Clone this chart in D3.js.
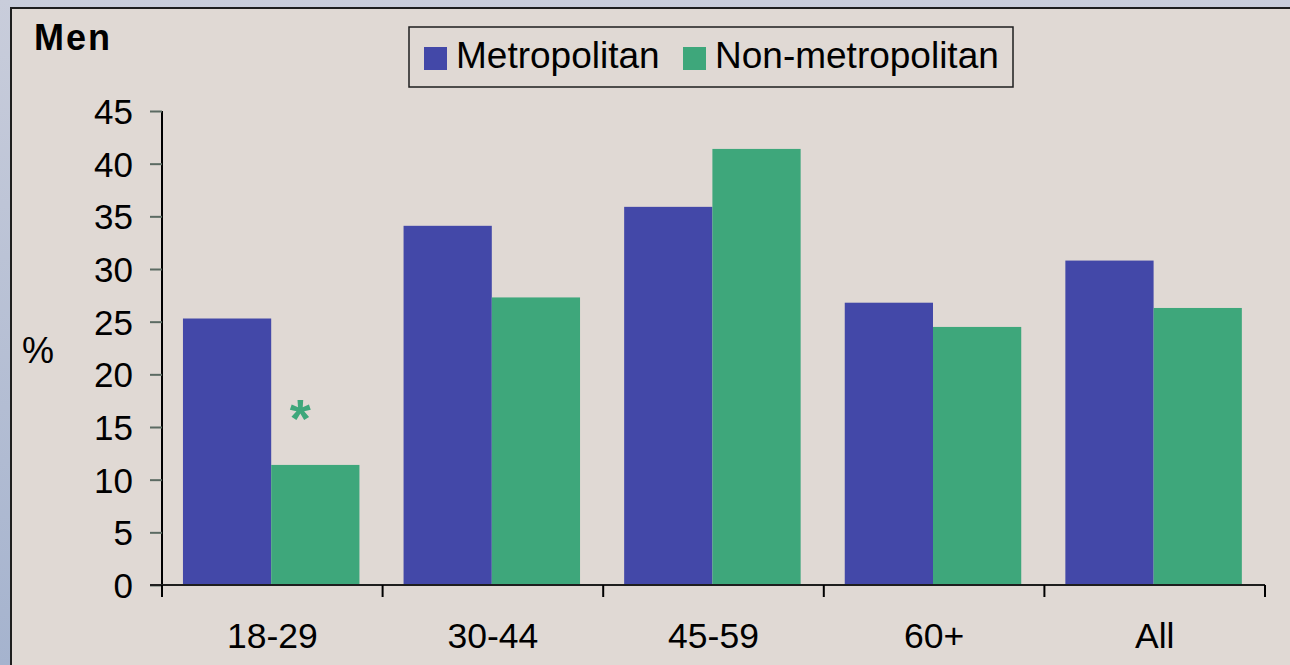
<!DOCTYPE html>
<html lang="en">
<head>
<meta charset="utf-8">
<script src="https://cdn.jsdelivr.net/npm/d3@7"></script>
<style>
body { margin:0; background:#b3bfd5; overflow:hidden; }
svg { display:block; font-family:"Liberation Sans", Arial, sans-serif; }
.axis text { font-family:"Liberation Sans", Arial, sans-serif; fill:#000; }
</style>
</head>
<body>
<svg id="chart"></svg>
<script>
var W = 1290, H = 665;

// data
var ageGroups = ["18-29", "30-44", "45-59", "60+", "All"];
var seriesNames = ["Metropolitan", "Non-metropolitan"];
var metroValues = [25.3, 34.1, 35.9, 26.8, 30.8];
var nonMetroValues = [11.4, 27.3, 41.4, 24.5, 26.3];
var yTicks = [0, 5, 10, 15, 20, 25, 30, 35, 40, 45];
var colors = ["#4348a8", "#3ea77b"];

var svg = d3.select("#chart").attr("width", W).attr("height", H);

// outer frame + panel
var defs = svg.append("defs");
var grad = defs.append("linearGradient").attr("id", "outer").attr("x1", 0).attr("y1", 0).attr("x2", 0).attr("y2", 1);
grad.append("stop").attr("offset", "0%").attr("stop-color", "#c9cddb");
grad.append("stop").attr("offset", "100%").attr("stop-color", "#a5b3ce");
svg.append("rect").attr("width", W).attr("height", H).attr("fill", "url(#outer)");
svg.append("rect")
	.attr("x", 11).attr("y", 8).attr("width", W + 20).attr("height", H + 20)
	.attr("fill", "#e0d9d4").attr("stroke", "#1e1e1e").attr("stroke-width", 2);

var plotLeft = 162, plotRight = 1265, plotTop = 111, plotBottom = 585;

var x = d3.scaleBand().domain(ageGroups).range([plotLeft, plotRight]).padding(0);
var xs = d3.scaleBand().domain(seriesNames)
	.range([x.bandwidth() * 0.095, x.bandwidth() * 0.895]).padding(0);
var y = d3.scaleLinear().domain([0, 45]).range([plotBottom, plotTop]);

var rows = ageGroups.map(function(g, i){
	return {group:g, values:[
		{name:seriesNames[0], v:metroValues[i], c:colors[0]},
		{name:seriesNames[1], v:nonMetroValues[i], c:colors[1]}
	]};
});

// bars
svg.append("g").selectAll("g")
	.data(rows)
	.enter().append("g")
	.attr("transform", function(d){ return "translate(" + x(d.group) + ",0)"; })
	.selectAll("rect")
	.data(function(d){ return d.values; })
	.enter().append("rect")
	.attr("x", function(d){ return xs(d.name); })
	.attr("width", xs.bandwidth())
	.attr("y", function(d){ return y(d.v); })
	.attr("height", function(d){ return y(0) - y(d.v); })
	.attr("fill", function(d){ return d.c; });

// y axis
var yAxis = svg.append("g").attr("class", "axis")
	.attr("transform", "translate(" + plotLeft + ",0)")
	.call(d3.axisLeft(y).tickValues(yTicks).tickSize(12).tickPadding(17));
yAxis.select(".domain").attr("stroke", "#000").attr("stroke-width", 2)
	.attr("d", "M0," + plotTop + "V" + plotBottom);
yAxis.selectAll(".tick line").attr("stroke", "#5b6a62").attr("stroke-width", 2);
yAxis.selectAll(".tick text").attr("font-size", 35).attr("dy", "0.36em");

// x axis
var xAxis = svg.append("g").attr("class", "axis")
	.attr("transform", "translate(0," + plotBottom + ")")
	.call(d3.axisBottom(x).tickSize(0).tickPadding(38));
xAxis.select(".domain").attr("stroke", "#1e1e1e").attr("stroke-width", 2)
	.attr("d", "M" + (plotLeft - 12) + ",0H" + plotRight);
xAxis.selectAll(".tick text").attr("font-size", 35.5);
xAxis.selectAll("line.edge")
	.data(ageGroups.map(function(g){ return x(g); }).concat([x.range()[1]]))
	.enter().append("line")
	.attr("class", "edge")
	.attr("x1", function(d){ return d; }).attr("x2", function(d){ return d; })
	.attr("y1", 0).attr("y2", 12)
	.attr("stroke", "#000").attr("stroke-width", 2);

// significance marker on 18-29 non-metropolitan
svg.append("text")
	.attr("x", x(ageGroups[0]) + xs(seriesNames[1]) + xs.bandwidth() * 0.33)
	.attr("y", y(nonMetroValues[0]) - 28)
	.attr("text-anchor", "middle")
	.attr("font-size", 54).attr("font-weight", "bold")
	.attr("fill", colors[1])
	.text("*");

// titles
svg.append("text").attr("x", 34).attr("y", 50)
	.attr("font-size", 36).attr("font-weight", "bold").attr("letter-spacing", 2)
	.text("Men");
svg.append("text").attr("x", 22).attr("y", 363)
	.attr("font-size", 36).text("%");

// legend
var lg = svg.append("g").attr("transform", "translate(409,27)");
lg.append("rect").attr("width", 604).attr("height", 60)
	.attr("fill", "none").attr("stroke", "#1e1e1e").attr("stroke-width", 1.5);
var legendX = [15, 274];
var item = lg.selectAll("g.item").data(seriesNames).enter().append("g")
	.attr("class", "item")
	.attr("transform", function(d, i){ return "translate(" + legendX[i] + ",0)"; });
item.append("rect").attr("y", 20).attr("width", 23).attr("height", 23)
	.attr("fill", function(d, i){ return colors[i]; });
item.append("text").attr("x", 32).attr("y", 41)
	.attr("font-size", 37).text(function(d){ return d; });
</script>
</body>
</html>
